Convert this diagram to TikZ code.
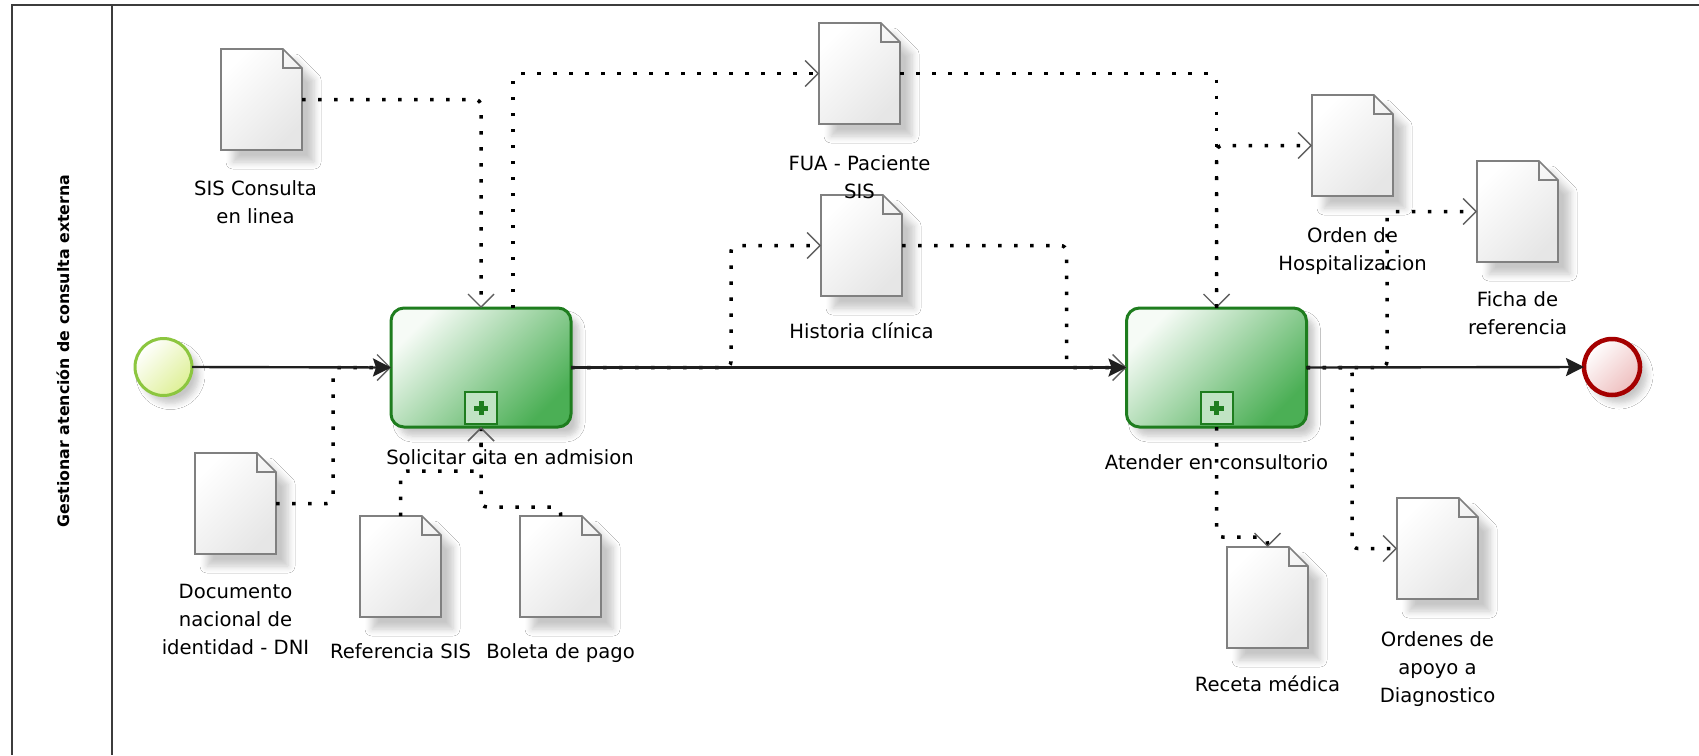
\documentclass[tikz,border=0pt]{standalone}
\usepackage{fontspec}
\setmainfont{DejaVu Sans}
\usetikzlibrary{arrows.meta,shadows.blur,calc}
\definecolor{taskgreen}{RGB}{30,125,30}
\definecolor{taskfill}{RGB}{75,175,85}
\definecolor{tasklight}{RGB}{246,251,246}
\definecolor{startline}{RGB}{140,198,63}
\definecolor{startfill}{RGB}{222,240,150}
\definecolor{endline}{RGB}{165,0,0}
\definecolor{endfill}{RGB}{238,190,190}
\definecolor{docline}{RGB}{128,128,128}
\definecolor{docfill}{RGB}{230,230,230}
\definecolor{poolline}{RGB}{60,60,60}
\definecolor{assoctip}{RGB}{95,95,95}
\newcommand\docat[3]{%
  \node[docnode] (#1) at (#2+40.5,#3+50.5) {};
  \path[docbody] (#1.north west) -- ([xshift=-19pt]#1.north east) -- ([yshift=-19pt]#1.north east) -- (#1.south east) -- (#1.south west) -- cycle;
  \draw[docfold] ([xshift=-19pt]#1.north east) |- ([yshift=-19pt]#1.north east);
}
\begin{document}
\begin{tikzpicture}[x=1pt,y=-1pt,
  poolstyle/.style={draw=poolline, line width=2.5pt},
  docnode/.style={rectangle, minimum width=81pt, minimum height=101pt, inner sep=0pt, outer sep=0pt, draw=none},
  docbody/.style={draw=docline, line width=1.6pt, top color=white, bottom color=docfill, shading angle=45,
    blur shadow={shadow xshift=12pt, shadow yshift=-12pt, shadow opacity=22, shadow blur radius=7pt, shadow blur steps=6}},
  docfold/.style={draw=docline, line width=1.6pt},
  taskbox/.style={rectangle, rounded corners=13pt, draw=taskgreen, line width=3pt, minimum width=180pt, minimum height=119pt,
    inner sep=0pt, outer sep=0pt, top color=tasklight, bottom color=taskfill, shading angle=45,
    blur shadow={shadow xshift=8pt, shadow yshift=-9pt, shadow opacity=22, shadow blur radius=6pt, shadow blur steps=6}},
  marker/.style={rectangle, draw=taskgreen, line width=2pt, minimum size=32pt, inner sep=0pt, outer sep=0pt, fill=taskfill!35!white},
  plusline/.style={draw=taskgreen, line width=5pt},
  startev/.style={circle, draw=startline, line width=3pt, minimum size=57pt, inner sep=0pt, outer sep=0pt,
    top color=white, bottom color=startfill, shading angle=45,
    blur shadow={shadow xshift=7pt, shadow yshift=-8pt, shadow opacity=22, shadow blur radius=6pt, shadow blur steps=6}},
  endev/.style={circle, draw=endline, line width=4.5pt, minimum size=56pt, inner sep=0pt, outer sep=0pt,
    top color=white, bottom color=endfill, shading angle=45,
    blur shadow={shadow xshift=7pt, shadow yshift=-8pt, shadow opacity=22, shadow blur radius=6pt, shadow blur steps=6}},
  lbl/.style={font=\fontsize{19.6}{28}\selectfont, align=center, inner sep=0pt, text=black},
  lanelbl/.style={font=\bfseries\fontsize{15.8}{19}\selectfont, inner sep=0pt, text=black, rotate=90},
  assoc/.style={draw=black, line width=3.5pt, dash pattern=on 3.5pt off 12.5pt, rounded corners=6pt,
    -{Straight Barb[length=13pt,width=26pt,line width=1.4pt,color=assoctip]}},
  seq/.style={draw=black!88, line width=2.4pt, -{Stealth[length=18pt,width=18pt,inset=3pt]}}
]
\useasboundingbox (0,0) rectangle (1699,755);
\fill[white] (0,0) rectangle (1699,755);

% pool and lane
\draw[poolstyle] (11,5) -- (1699,5);
\draw[poolstyle] (12,5) -- (12,755);
\draw[poolstyle] (112,5) -- (112,755);
\node[lanelbl] (lane) at (63,351) {Gestionar atención de consulta externa};

% documents
\docat{sis}{221}{49}
\docat{fua}{819}{23}
\docat{hist}{821}{195}
\docat{orden}{1312}{95}
\docat{ficha}{1477}{161}
\docat{dni}{195}{453}
\docat{refsis}{360}{516}
\docat{boleta}{520}{516}
\docat{receta}{1227}{547}
\docat{ordenes}{1397}{498}

% tasks and events
\node[startev] (start) at (163.5,367) {};
\node[taskbox] (task1) at (481,367.5) {};
\node[taskbox] (task2) at (1216.5,367.5) {};
\node[endev] (endev) at (1612,367) {};
\node[marker] (m1) at ([yshift=19pt]task1.south) {};
\node[marker] (m2) at ([yshift=19pt]task2.south) {};
\draw[plusline] ([xshift=-7pt]m1.center) -- ([xshift=7pt]m1.center);
\draw[plusline] ([yshift=-7pt]m1.center) -- ([yshift=7pt]m1.center);
\draw[plusline] ([xshift=-7pt]m2.center) -- ([xshift=7pt]m2.center);
\draw[plusline] ([yshift=-7pt]m2.center) -- ([yshift=7pt]m2.center);

% labels
\node[lbl, anchor=north] (sisl) at ([xshift=-6pt,yshift=-30pt]sis.south) {SIS Consulta\\en linea};
\node[lbl, anchor=north] (fual) at ([yshift=-31pt]fua.south) {FUA - Paciente\\SIS};
\node[lbl, anchor=north] (histl) at ([yshift=-27pt]hist.south) {Historia clínica};
\node[lbl, anchor=north] (ordenl) at ([yshift=-31pt]orden.south) {Orden de\\Hospitalizacion};
\node[lbl, anchor=north] (fichal) at ([yshift=-29pt]ficha.south) {Ficha de\\referencia};
\node[lbl, anchor=north] (dnil) at ([yshift=-30pt]dni.south) {Documento\\nacional de\\identidad - DNI};
\node[lbl, anchor=north] (refl) at ([yshift=-26pt]refsis.south) {Referencia SIS};
\node[lbl, anchor=north] (boletal) at ([yshift=-26pt]boleta.south) {Boleta de pago};
\node[lbl, anchor=north] (recetal) at ([yshift=-28pt]receta.south) {Receta médica};
\node[lbl, anchor=north] (ordenesl) at ([yshift=-32pt]ordenes.south) {Ordenes de\\apoyo a\\Diagnostico};
\node[lbl, anchor=north] (task1l) at ([xshift=29pt,yshift=-22pt]task1.south) {Solicitar cita en admision};
\node[lbl, anchor=north] (task2l) at ([yshift=-27pt]task2.south) {Atender en consultorio};

% associations
\draw[assoc] (sis.east) -| (task1.north);
\draw[assoc] ([xshift=32pt]task1.north) |- (fua.west);
\draw[assoc] (fua.east) -| (task2.north);
\draw[assoc] (task2.north) |- (orden.west);
\draw[assoc] (task1.east) -| ([xshift=-90pt]hist.west) -- (hist.west);
\draw[assoc] (hist.east) -| ([xshift=-60pt]task2.west) -- (task2.west);
\draw[assoc] (dni.east) -| ([xshift=-58pt]task1.west) -- (task1.west);
\draw[assoc] (refsis.north) |- ([yshift=-44pt]task1.south) -- (task1.south);
\draw[assoc] (boleta.north) |- ([yshift=-80pt]task1.south) -- (task1.south);
\draw[assoc] (task2.south) |- ([yshift=10pt]receta.north) -- (receta.north);
\draw[assoc] (task2.east) -| ([xshift=-45pt]ordenes.west) -- (ordenes.west);
\draw[assoc] (task2.east) -| ([xshift=-90pt]ficha.west) -- (ficha.west);

% sequence flows
\draw[seq] (start.east) -- (task1.west);
\draw[seq] (task1.east) -- (task2.west);
\draw[seq] (task2.east) -- (endev.west);
\end{tikzpicture}
\end{document}
